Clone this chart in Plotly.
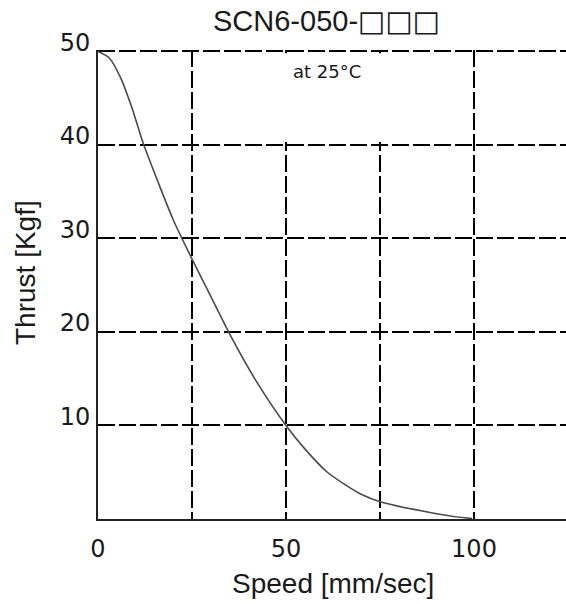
import plotly.graph_objects as go

speed = [0, 3, 6, 9, 12, 16, 20, 25, 30, 35, 42, 50, 55, 61, 66, 70, 75, 80, 88, 94, 99.5]
thrust = [50, 49.3, 47.2, 44.0, 40.2, 36.0, 32.0, 27.8, 23.8, 19.8, 14.8, 10.0, 7.5, 5.0, 3.6, 2.65, 1.84, 1.35, 0.72, 0.3, 0.05]

x_ticks = [0, 25, 50, 75, 100]
x_tick_text = ["0", "", "50", "", "100"]
y_ticks = [10, 20, 30, 40, 50]

title_main = "SCN6-050-"
title_boxes = "□□□"
note_text = "at 25°C"
x_title = "Speed [mm/sec]"
y_title = "Thrust [Kgf]"

FONT = "Liberation Sans, Arial, sans-serif"
TICKFONT = "DejaVu Sans, sans-serif"

W, H = 566, 604
L, T = 98, 50
B = H - 519
R = 0
pw, ph = W - L - R, H - T - B
px_per_unit = 3.76

fig = go.Figure()
fig.add_trace(go.Scatter(x=speed, y=thrust, mode="lines",
                         line=dict(color="#4a4a4a", width=1.6, shape="spline", smoothing=0.7),
                         hoverinfo="skip"))

grid = dict(gridcolor="black", gridwidth=1.6, griddash="17px,4px", showgrid=True,
            showline=True, linecolor="#222", linewidth=2, zeroline=False, ticks="")

fig.update_layout(
    width=W, height=H,
    margin=dict(l=L, r=R, t=T, b=B),
    paper_bgcolor="white", plot_bgcolor="white",
    showlegend=False,
    font=dict(family=FONT, color="#1a1a1a"),
    xaxis=dict(range=[0, pw / px_per_unit], tickvals=x_ticks, ticktext=x_tick_text,
               tickfont=dict(size=24, family=TICKFONT, color="#1a1a1a"), ticklabelstandoff=7, **grid),
    yaxis=dict(range=[0, 50.15], tickvals=y_ticks,
               ticklabelshift=-9,
               tickfont=dict(size=24, family=TICKFONT, color="#1a1a1a"), ticklabelstandoff=1, **grid),
    shapes=[dict(type="rect", xref="x", yref="y", x0=49.3, x1=75.7, y0=40.3, y1=49.8,
                 fillcolor="white", line=dict(width=0), layer="between")],
)

def px_ann(text, sx, sy, size, family=FONT, angle=0):
    fig.add_annotation(text=text, xref="paper", yref="paper",
                       x=(sx - L) / pw, y=(H - B - sy) / ph,
                       xanchor="center", yanchor="middle",
                       showarrow=False, textangle=angle,
                       font=dict(size=size, family=family, color="#1a1a1a"))

px_ann(title_main + '<span style="font-family:DejaVu Sans">' + title_boxes + '</span>', 326, 21, 29)
px_ann(note_text, 327, 71, 18, family="DejaVu Sans, sans-serif")
px_ann(x_title, 333, 583, 28)
px_ann(y_title, 25, 273, 28, angle=-90)

fig.write_html("out.html", config={"displayModeBar": False},
               post_script="document.body.style.margin='0';")
